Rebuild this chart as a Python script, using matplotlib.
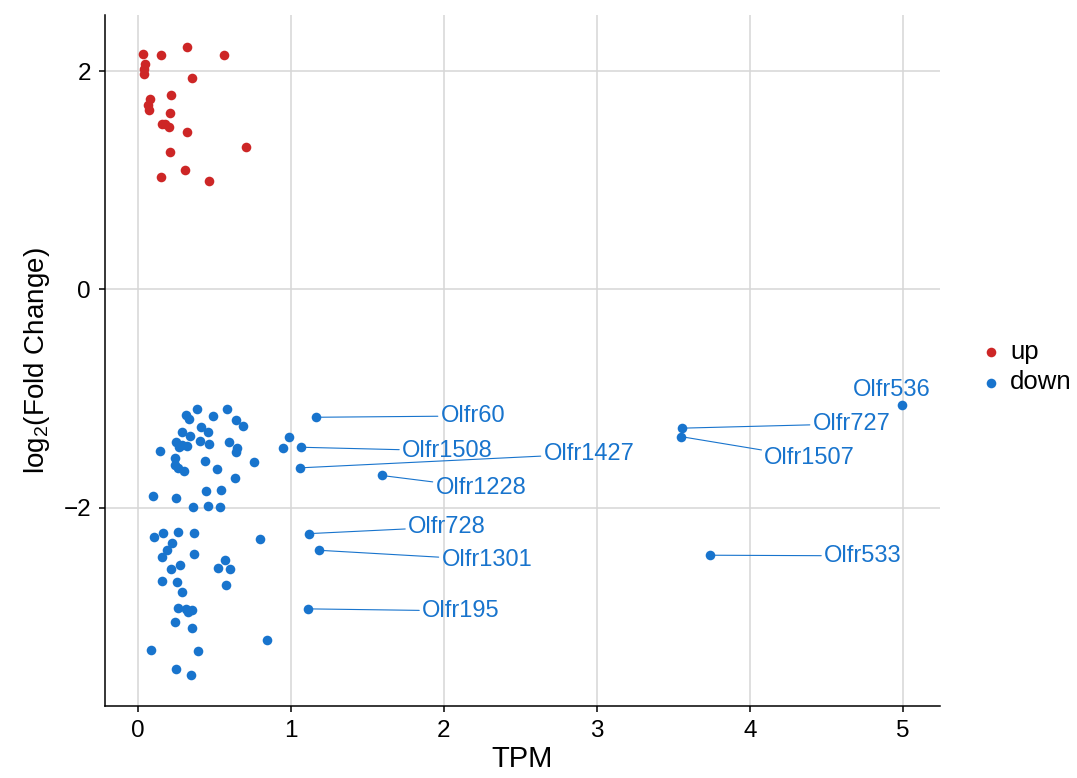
import matplotlib
matplotlib.use("Agg")
import matplotlib.pyplot as plt

plt.rcParams["font.family"] = ["Liberation Sans", "DejaVu Sans"]
plt.rcParams["mathtext.fontset"] = "custom"
plt.rcParams["mathtext.rm"] = "Liberation Sans"

# colours
col_up = "#CD2626"
col_down = "#1874CD"

# up-regulated genes (TPM, log2 FC)
up_tpm = [0.035, 0.155, 0.32, 0.564, 0.048, 0.044, 0.044, 0.355, 0.08, 0.216,
          0.07, 0.074, 0.214, 0.157, 0.176, 0.205, 0.32, 0.71, 0.211, 0.312,
          0.155, 0.466]
up_lfc = [2.156, 2.15, 2.227, 2.147, 2.07, 2.025, 1.979, 1.936, 1.75, 1.78,
          1.688, 1.649, 1.615, 1.514, 1.52, 1.493, 1.447, 1.303, 1.26, 1.092,
          1.03, 0.994]

# down-regulated genes, unlabelled
down_tpm = [0.386, 0.314, 0.335, 0.490, 0.584, 0.645, 0.686, 0.416, 0.462, 0.290,
            0.342, 0.253, 0.288, 0.320, 0.273, 0.407, 0.466, 0.595, 0.647, 0.642,
            0.146, 0.242, 0.440, 0.760, 0.992, 0.948, 0.242, 0.266, 0.303, 0.521,
            0.639, 0.446, 0.544, 0.103, 0.250, 0.361, 0.462, 0.538, 0.107, 0.165,
            0.261, 0.371, 0.222, 0.194, 0.159, 0.366, 0.799, 0.276, 0.220, 0.571,
            0.525, 0.601, 0.159, 0.257, 0.577, 0.290, 0.263, 0.314, 0.353, 0.331,
            0.244, 0.358, 0.848, 0.090, 0.394, 0.248, 0.346]
down_lfc = [-1.094, -1.153, -1.186, -1.156, -1.094, -1.193, -1.248, -1.260, -1.309, -1.309,
            -1.346, -1.397, -1.422, -1.438, -1.443, -1.394, -1.419, -1.397, -1.450, -1.489,
            -1.477, -1.544, -1.569, -1.584, -1.353, -1.454, -1.608, -1.636, -1.667, -1.651,
            -1.728, -1.844, -1.835, -1.896, -1.915, -1.994, -1.982, -1.991, -2.272, -2.232,
            -2.223, -2.232, -2.324, -2.392, -2.450, -2.422, -2.284, -2.523, -2.560, -2.480,
            -2.553, -2.562, -2.676, -2.685, -2.706, -2.773, -2.924, -2.927, -2.936, -2.961,
            -3.052, -3.104, -3.211, -3.309, -3.312, -3.480, -3.532]

# labelled down-regulated genes
genes = ["Olfr60", "Olfr1508", "Olfr1427", "Olfr1228", "Olfr728", "Olfr1301",
         "Olfr195", "Olfr536", "Olfr727", "Olfr1507", "Olfr533"]
gene_tpm = [1.165, 1.065, 1.059, 1.595, 1.12, 1.188, 1.113, 4.993, 3.557, 3.547, 3.736]
gene_lfc = [-1.172, -1.447, -1.636, -1.706, -2.239, -2.392, -2.929, -1.064, -1.272, -1.349, -2.437]

# where the repelled labels sit (layout only)
label_xy = [(2.19, -1.16), (2.023, -1.48), (2.948, -1.507), (2.242, -1.82),
            (2.02, -2.178), (2.281, -2.48), (2.111, -2.948), (4.928, -0.92),
            (4.663, -1.232), (4.39, -1.545), (4.737, -2.443)]

fig = plt.figure(figsize=(10.77, 7.78), dpi=100)
ax = fig.add_axes([0.0975, 0.0925, 0.7753, 0.888])

ax.scatter(up_tpm, up_lfc, s=48, color=col_up, linewidths=0, label="up", zorder=3)
ax.scatter(down_tpm + gene_tpm, down_lfc + gene_lfc, s=48, color=col_down,
           linewidths=0, label="down", zorder=3)

for g, x, y, (lx, ly) in zip(genes, gene_tpm, gene_lfc, label_xy):
    arrow = None
    if g != "Olfr536":
        arrow = dict(arrowstyle="-", color=col_down, lw=0.8, shrinkA=0, shrinkB=0)
    ax.annotate(g, xy=(x, y), xytext=(lx, ly), textcoords="data",
                ha="center", va="center", fontsize=17, color=col_down,
                arrowprops=arrow, zorder=4)

ax.set_xlim(-0.213, 5.241)
ax.set_ylim(-3.82, 2.515)
ax.set_xticks([0, 1, 2, 3, 4, 5])
ax.set_yticks([-2, 0, 2])
ax.set_yticklabels(["\u22122", "0", "2"])
ax.grid(True, color="#D6D6D6", lw=1.1)
ax.set_axisbelow(True)

for s in ["top", "right"]:
    ax.spines[s].set_visible(False)
for s in ["left", "bottom"]:
    ax.spines[s].set_linewidth(1.1)
ax.tick_params(axis="both", length=4, width=1.1, labelsize=17.5, pad=6)

ax.set_xlabel("TPM", fontsize=21, labelpad=2)
ax.set_ylabel(r"log$_\mathregular{2}$(Fold Change)", fontsize=20, labelpad=8)

fig.legend(loc="center left", bbox_to_anchor=(0.908, 0.528), frameon=False,
           fontsize=18.5, handlelength=1.0, handletextpad=0.25, labelspacing=0.25,
           borderpad=0, borderaxespad=0)

fig.savefig("out.png", dpi=100)
